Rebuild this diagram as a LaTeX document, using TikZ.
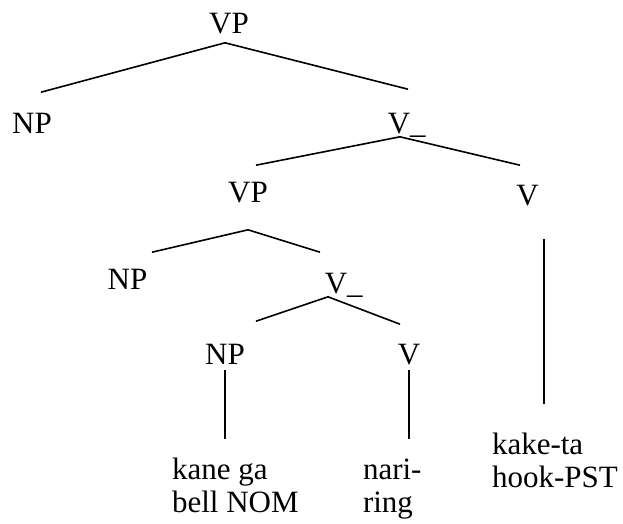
\documentclass[tikz,border=0pt]{standalone}
\usepackage{fontspec}
\setmainfont{Liberation Serif}

\begin{document}
\begin{tikzpicture}[x=1pt, y=-1pt, line width=1.6pt,
    cat node/.style={anchor=base, inner sep=0pt, text height=21pt, text depth=0pt,
                     font=\fontsize{31}{33}\selectfont},
    gloss node/.style={anchor=base west, inner sep=0pt, outer xsep=0pt,
                       font=\fontsize{31}{33}\selectfont}]
  \useasboundingbox (0,0) rectangle (623,523);

  \node[cat node] (vp1) at (229,33) {VP};
  \node[cat node] (np1) at (32,133) {NP};
  \node[cat node] (vb1) at (399,133) {V\rlap{\_}};
  \node[cat node] (vp2) at (248,202) {VP};
  \node[cat node] (v1) at (527.5,205) {V};
  \node[cat node] (np2) at (127.5,289) {NP};
  \node[cat node] (vb2) at (336,293) {V\rlap{\_}};
  \node[cat node] (np3) at (225,364) {NP};
  \node[cat node] (v2) at (409,364) {V};

  \node[gloss node, outer ysep=17pt] (g1) at (172,479)
    {\begin{tabular}[t]{@{}l@{}}kane ga\\bell NOM\end{tabular}};
  \node[gloss node, outer ysep=17pt] (g2) at (363,479)
    {\begin{tabular}[t]{@{}l@{}}nari-\\ring\end{tabular}};
  \node[gloss node, outer ysep=27pt] (g3) at (492,454)
    {\begin{tabular}[t]{@{}l@{}}kake-ta\\hook-PST\end{tabular}};

  \path ([shift={(-4,9)}]vp1.south) edge ([shift={(9,-19)}]np1.north)
        ([shift={(-4,9)}]vp1.south) edge ([shift={(9,-22)}]vb1.north)
        ([shift={(1,3)}]vb1.south) edge ([shift={(8,-15)}]vp2.north)
        ([shift={(1,3)}]vb1.south) edge ([shift={(-7.5,-18)}]v1.north)
        ([shift={(0,27)}]vp2.south) edge ([shift={(24.5,-15)}]np2.north)
        ([shift={(0,27)}]vp2.south) edge ([shift={(-16,-19)}]vb2.north)
        ([shift={(-8,3)}]vb2.south) edge ([shift={(31,-21)}]np3.north)
        ([shift={(-8,3)}]vb2.south) edge ([shift={(-9,-18)}]v2.north);

  % unary branches down to the glosses
  \coordinate (v1foot) at ([xshift=16.5pt]v1.south);
  \path ([yshift=-5pt]np3.south) edge (np3.south |- g1.north)
        ([yshift=-5pt]v2.south) edge (v2.south |- g2.north)
        ([yshift=-33pt]v1foot) edge (v1foot |- g3.north);
\end{tikzpicture}
\end{document}
